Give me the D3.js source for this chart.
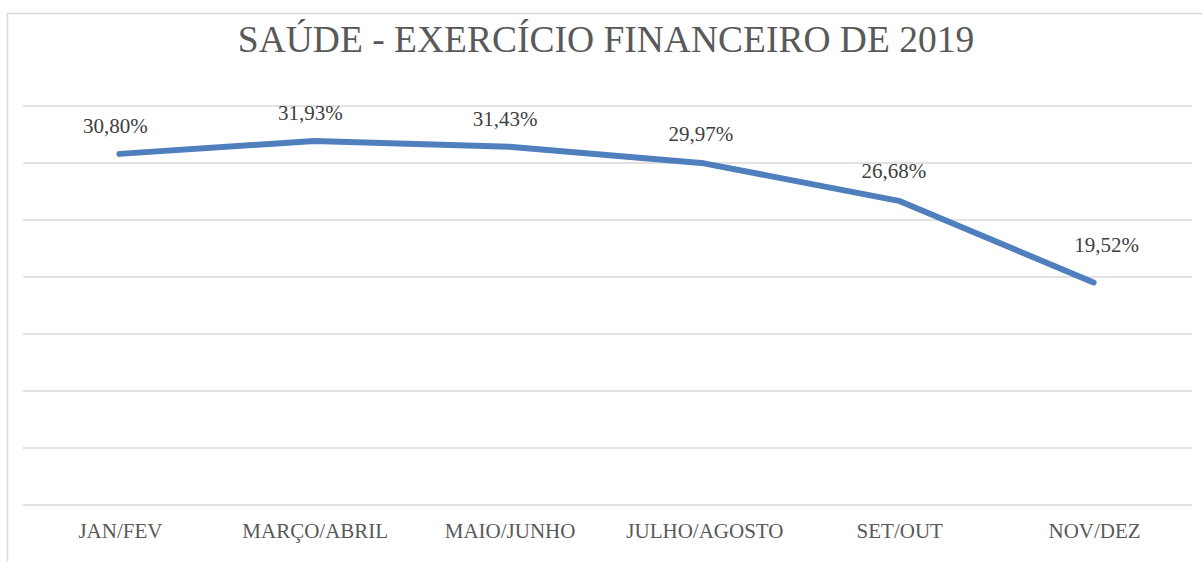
<!DOCTYPE html>
<html>
<head>
<meta charset="utf-8">
<script src="https://cdn.jsdelivr.net/npm/d3@7"></script>
<style>
  body { margin: 0; background: #fff; }
  svg text { font-family: "Liberation Serif", "Times New Roman", serif; }
</style>
</head>
<body>
<svg id="chart" width="1202" height="561"></svg>
<script>
const periods = ["JAN/FEV", "MARÇO/ABRIL", "MAIO/JUNHO", "JULHO/AGOSTO", "SET/OUT", "NOV/DEZ"];
const values = [30.80, 31.93, 31.43, 29.97, 26.68, 19.52];
const yTicks = [0, 5, 10, 15, 20, 25, 30, 35];

const serif = '"Liberation Serif", "Times New Roman", serif';
const svg = d3.select("#chart");
const margin = { top: 106, right: 10, bottom: 56, left: 23 };
const width = 1192 - margin.left;
const height = 505 - margin.top;

// label nudges (dx, gap above point) as placed in the original
const labelDx = [-4, -4, -4, -3, -5, 13];
const labelGap = [21, 21, 21, 22, 23, 30];

// chart area border
svg.append("rect")
    .attr("x", 7.5).attr("y", 13.5)
    .attr("width", 1210).attr("height", 570)
    .attr("fill", "#fff")
    .attr("stroke", "#d9d9d9")
    .attr("stroke-width", 1.5);

svg.append("text")
    .attr("x", 606).attr("y", 52)
    .attr("text-anchor", "middle")
    .style("font-family", serif)
    .style("font-size", "37.5px")
    .attr("fill", "#595959")
    .text("SAÚDE - EXERCÍCIO FINANCEIRO DE 2019");

const g = svg.append("g").attr("transform", `translate(${margin.left},${margin.top})`);

const x = d3.scaleBand().domain(periods).range([0, width]);
const y = d3.scaleLinear().domain([0, 35]).range([height, 0]);

// gridlines
g.selectAll(".grid")
    .data(yTicks)
    .enter().append("line")
    .attr("class", "grid")
    .attr("x1", 0).attr("x2", width)
    .attr("y1", d => y(d)).attr("y2", d => y(d))
    .attr("stroke", "#d9d9d9")
    .attr("stroke-width", 1.5);

// category labels
const xAxis = g.append("g")
    .attr("transform", `translate(0,${height})`)
    .call(d3.axisBottom(x).tickSize(0).tickPadding(18));
xAxis.select(".domain").remove();
xAxis.selectAll("text")
    .style("font-family", serif)
    .style("font-size", "21px")
    .attr("fill", "#595959");

const px = i => x(periods[i]) + x.bandwidth() / 2 - 1;

const line = d3.line()
    .x((d, i) => px(i))
    .y(d => y(d));

g.append("path")
    .datum(values)
    .attr("fill", "none")
    .attr("stroke", "#4f7fbd")
    .attr("stroke-width", 6)
    .attr("stroke-linecap", "round")
    .attr("stroke-linejoin", "round")
    .attr("d", line);

g.selectAll(".lbl")
    .data(values)
    .enter().append("text")
    .attr("class", "lbl")
    .attr("x", (d, i) => px(i) + labelDx[i])
    .attr("y", (d, i) => y(d) - labelGap[i])
    .attr("text-anchor", "middle")
    .style("font-family", serif)
    .style("font-size", "21px")
    .attr("fill", "#404040")
    .text(d => d.toFixed(2).replace(".", ",") + "%");
</script>
</body>
</html>
